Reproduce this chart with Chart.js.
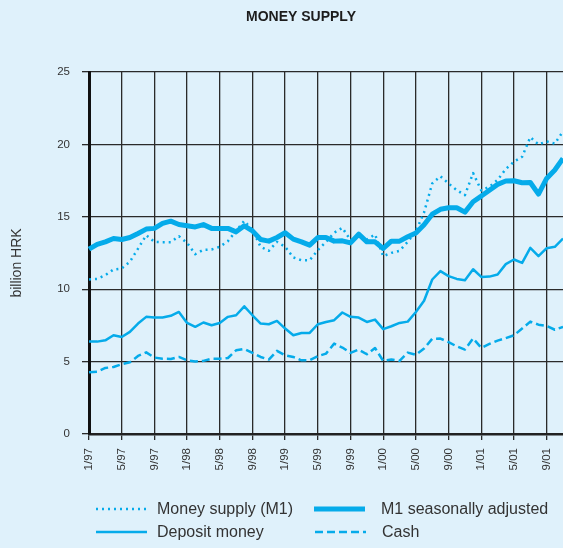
<!DOCTYPE html>
<html>
<head>
<meta charset="utf-8">
<script src="https://cdn.jsdelivr.net/npm/chart.js@4.4.1/dist/chart.umd.min.js"></script>
<style>
  html, body { margin: 0; padding: 0; background: #dff1fb; }
  canvas { display: block; }
</style>
</head>
<body>
<canvas id="chart" width="563" height="548"></canvas>
<script>
// monthly, 1/97 .. 11/01
var months = [
  '1/97','2/97','3/97','4/97','5/97','6/97','7/97','8/97','9/97','10/97','11/97','12/97',
  '1/98','2/98','3/98','4/98','5/98','6/98','7/98','8/98','9/98','10/98','11/98','12/98',
  '1/99','2/99','3/99','4/99','5/99','6/99','7/99','8/99','9/99','10/99','11/99','12/99',
  '1/00','2/00','3/00','4/00','5/00','6/00','7/00','8/00','9/00','10/00','11/00','12/00',
  '1/01','2/01','3/01','4/01','5/01','6/01','7/01','8/01','9/01','10/01','11/01'
];

var moneySupply = [
  10.67, 10.71, 10.97, 11.36, 11.43, 11.9, 12.8, 13.73, 13.27, 13.25, 13.25, 13.66,
  13.2, 12.42, 12.72, 12.74, 12.93, 13.32, 14.03, 14.72, 14.08, 12.93, 12.65, 13.27,
  12.93, 12.19, 12.0, 12.0, 12.7, 13.27, 13.9, 14.24, 13.39, 13.73, 13.43, 13.78,
  12.28, 12.51, 12.65, 13.27, 14.0, 15.3, 17.3, 17.8, 17.3, 16.84, 16.5, 18.02,
  16.82, 17.08, 17.55, 18.3, 18.8, 19.15, 20.5, 20.0, 20.2, 20.05, 20.9
];

var m1Adjusted = [
  12.77, 13.1, 13.27, 13.5, 13.43, 13.57, 13.85, 14.15, 14.2, 14.54, 14.7, 14.47,
  14.38, 14.3, 14.46, 14.2, 14.2, 14.2, 13.96, 14.38, 14.03, 13.43, 13.32, 13.57,
  13.9, 13.46, 13.27, 13.04, 13.57, 13.57, 13.32, 13.34, 13.2, 13.8, 13.27, 13.27,
  12.81, 13.32, 13.32, 13.62, 13.88, 14.45, 15.18, 15.52, 15.62, 15.62, 15.32, 16.04,
  16.43, 16.84, 17.24, 17.47, 17.49, 17.35, 17.37, 16.57, 17.65, 18.23, 19.03
];

var depositMoney = [
  6.38, 6.38, 6.47, 6.82, 6.7, 7.05, 7.63, 8.09, 8.04, 8.04, 8.16, 8.43,
  7.67, 7.4, 7.7, 7.51, 7.67, 8.09, 8.2, 8.82, 8.2, 7.63, 7.58, 7.81,
  7.28, 6.82, 6.98, 6.98, 7.58, 7.74, 7.86, 8.39, 8.09, 8.04, 7.74, 7.9,
  7.24, 7.44, 7.67, 7.76, 8.43, 9.2, 10.67, 11.25, 10.9, 10.71, 10.62, 11.38,
  10.85, 10.87, 11.02, 11.73, 12.05, 11.82, 12.85, 12.28, 12.83, 12.93, 13.5
];

var cash = [
  4.26, 4.3, 4.56, 4.63, 4.82, 4.95, 5.39, 5.64, 5.28, 5.2, 5.18, 5.32,
  5.09, 5.0, 5.05, 5.2, 5.2, 5.25, 5.78, 5.88, 5.6, 5.32, 5.14, 5.74,
  5.44, 5.32, 5.09, 5.09, 5.37, 5.55, 6.24, 5.97, 5.6, 5.83, 5.51, 5.94,
  5.05, 5.14, 5.05, 5.62, 5.47, 5.9, 6.58, 6.59, 6.35, 6.05, 5.83, 6.6,
  5.95, 6.22, 6.45, 6.62, 6.82, 7.28, 7.76, 7.55, 7.46, 7.2, 7.4
];

var seriesNames = ['Money supply (M1)', 'M1 seasonally adjusted', 'Deposit money', 'Cash'];

var blue = '#05abea';
var ink = '#333333';
var fontFamily = "'Liberation Sans', Arial, Helvetica, sans-serif";

// title, y axis caption and a two column legend underneath
var titleAndLegend = {
  id: 'titleAndLegend',
  afterDraw: function (chart) {
    var ctx = chart.ctx;
    ctx.save();
    ctx.fillStyle = '#1c1c1c';
    ctx.font = 'bold 14px ' + fontFamily;
    ctx.textAlign = 'center';
    ctx.textBaseline = 'middle';
    ctx.fillText('MONEY SUPPLY', 301, 17);

    ctx.save();
    ctx.translate(17, 263);
    ctx.rotate(-Math.PI / 2);
    ctx.fillStyle = ink;
    ctx.font = '14px ' + fontFamily;
    ctx.fillText('billion HRK', 0, 0);
    ctx.restore();

    var spots = [
      { x: 96, y: 509, tx: 157 },
      { x: 314, y: 509, tx: 381 },
      { x: 96, y: 532, tx: 157 },
      { x: 315, y: 532, tx: 382 }
    ];
    ctx.textAlign = 'left';
    ctx.font = '16px ' + fontFamily;
    chart.data.datasets.forEach(function (ds, i) {
      var s = spots[i];
      ctx.beginPath();
      ctx.strokeStyle = ds.borderColor;
      ctx.lineWidth = ds.borderWidth;
      ctx.setLineDash(ds.borderDash || []);
      ctx.moveTo(s.x, s.y);
      ctx.lineTo(s.x + 51, s.y);
      ctx.stroke();
      ctx.setLineDash([]);
      ctx.fillStyle = ink;
      ctx.fillText(ds.label, s.tx, s.y + 1);
    });
    ctx.restore();
  }
};

new Chart('chart', {
  type: 'line',
  data: {
    labels: months,
    datasets: [
      { label: seriesNames[0], data: moneySupply, borderColor: blue, borderWidth: 2.5, borderDash: [2, 4] },
      { label: seriesNames[1], data: m1Adjusted, borderColor: blue, borderWidth: 5 },
      { label: seriesNames[2], data: depositMoney, borderColor: blue, borderWidth: 2.5 },
      { label: seriesNames[3], data: cash, borderColor: blue, borderWidth: 2.5, borderDash: [8, 4] }
    ]
  },
  options: {
    responsive: false,
    animation: false,
    layout: { padding: { top: 72, right: 0, bottom: 64, left: 0 } },
    elements: {
      point: { radius: 0 },
      line: { tension: 0, fill: false, borderCapStyle: 'butt', borderJoinStyle: 'round' }
    },
    plugins: {
      legend: { display: false },
      title: { display: false },
      tooltip: { enabled: false }
    },
    scales: {
      x: {
        type: 'category',
        afterBuildTicks: function (scale) {
          scale.ticks = scale.ticks.filter(function (t) { return t.value % 4 === 0; });
        },
        afterFit: function (scale) {
          scale.height = 50;
          scale.paddingLeft = 0;
          scale.paddingRight = 0;
        },
        ticks: {
          autoSkip: false,
          minRotation: 90,
          maxRotation: 90,
          padding: 8,
          color: ink,
          font: { family: fontFamily, size: 11.5 }
        },
        grid: { color: '#2a2a2a', lineWidth: 1.3, tickLength: 6 },
        border: { color: '#222', width: 2.5 }
      },
      y: {
        min: 0,
        max: 25,
        afterFit: function (scale) { scale.width = 89; },
        ticks: {
          stepSize: 5,
          padding: 12,
          color: ink,
          font: { family: fontFamily, size: 11.5 }
        },
        grid: { color: '#2a2a2a', lineWidth: 1.3, tickLength: 7 },
        border: { color: '#111', width: 3 }
      }
    }
  },
  plugins: [titleAndLegend]
});
</script>
</body>
</html>
